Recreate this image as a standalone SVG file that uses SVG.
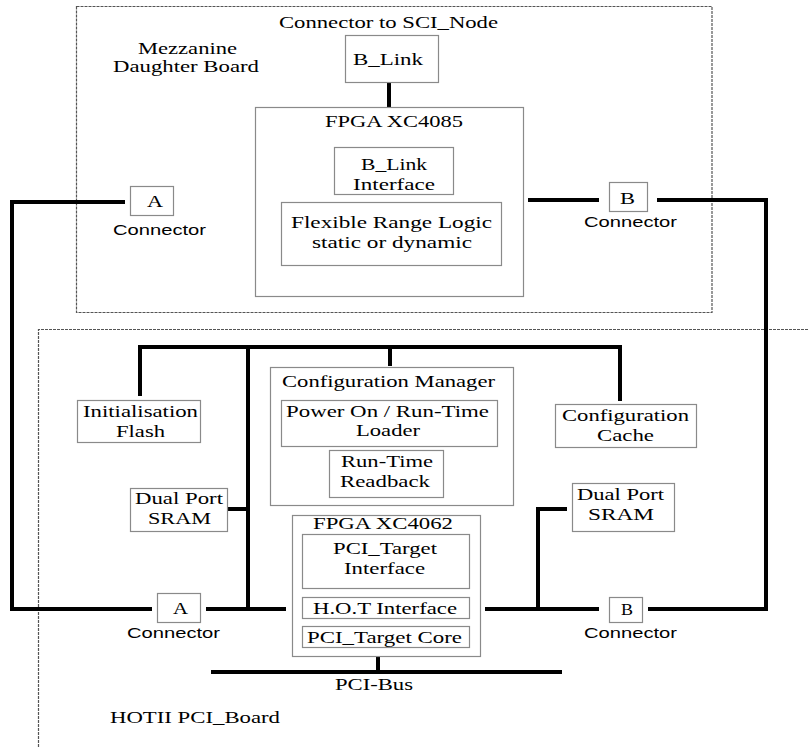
<svg xmlns="http://www.w3.org/2000/svg" width="808" height="747" viewBox="0 0 808 747" font-family="'Liberation Serif', 'Times New Roman', 'DejaVu Serif', serif">
<style>
.bg{fill:#fff}
.board{fill:none;stroke:#555;stroke-width:1.2;stroke-dasharray:3 1}
.box{fill:#fff;stroke:#8a8a8a;stroke-width:1.2}
.wire{fill:none;stroke:#000;stroke-width:4;stroke-linecap:butt;stroke-linejoin:miter}
.t{font-family:'Liberation Serif','Times New Roman','DejaVu Serif',serif;font-size:17px;fill:#000}
.s{font-family:'Liberation Sans',Arial,sans-serif;font-size:15px;fill:#000}
</style>
<rect class="bg" x="0" y="0" width="808" height="747"/>
<g id="mezzanine-board">
<rect class="board" x="76.5" y="6.5" width="635.5" height="306"/>
<text class="t" x="279" y="28" textLength="219" lengthAdjust="spacingAndGlyphs">Connector to SCI_Node</text>
<text class="t" x="138" y="54" textLength="99" lengthAdjust="spacingAndGlyphs">Mezzanine</text>
<text class="t" x="113" y="72" textLength="146" lengthAdjust="spacingAndGlyphs">Daughter Board</text>
</g>
<g id="hotii-board">
<path class="board" d="M38.5 747 V329.5 H808"/>
<text class="t" x="110" y="723" textLength="170" lengthAdjust="spacingAndGlyphs">HOTII PCI_Board</text>
</g>
<g id="connectors">
<path class="wire" d="M389 82 V107"/>
<path class="wire" d="M528 200 H599"/>
<path class="wire" d="M657 200 H766 V609 H648"/>
<path class="wire" d="M125 202 H12 V609 H152"/>
<path class="wire" d="M206 609 H286"/>
<path class="wire" d="M248 347 V609"/>
<path class="wire" d="M140 396 V347 H620 V401"/>
<path class="wire" d="M390 347 V366"/>
<path class="wire" d="M227 509 H248"/>
<path class="wire" d="M485 609 H599"/>
<path class="wire" d="M567 509 H538 V609"/>
<path class="wire" d="M378 656 V672"/>
<path class="wire" d="M211 672 H562"/>
</g>
<g id="b-link">
<rect class="box" x="345.5" y="35.5" width="93" height="47"/>
<text class="t" x="353" y="65" textLength="70" lengthAdjust="spacingAndGlyphs">B_Link</text>
</g>
<g id="fpga-xc4085">
<rect class="box" x="255.5" y="107.5" width="268" height="189"/>
<text class="t" x="325" y="127" textLength="138" lengthAdjust="spacingAndGlyphs">FPGA XC4085</text>
</g>
<g id="b-link-interface">
<rect class="box" x="334.5" y="147.5" width="119" height="47"/>
<text class="t" x="361" y="170" textLength="66" lengthAdjust="spacingAndGlyphs">B_Link</text>
<text class="t" x="353" y="190" textLength="82" lengthAdjust="spacingAndGlyphs">Interface</text>
</g>
<g id="flexible-range-logic">
<rect class="box" x="281.5" y="202.5" width="220" height="63"/>
<text class="t" x="291" y="228" textLength="201" lengthAdjust="spacingAndGlyphs">Flexible Range Logic</text>
<text class="t" x="312" y="248" textLength="160" lengthAdjust="spacingAndGlyphs">static or dynamic</text>
</g>
<g id="connector-a-top">
<rect class="box" x="130.5" y="186.5" width="43" height="29"/>
<text class="t" x="147" y="207" textLength="16" lengthAdjust="spacingAndGlyphs">A</text>
<text class="s" x="113" y="235" textLength="93" lengthAdjust="spacingAndGlyphs">Connector</text>
</g>
<g id="connector-b-top">
<rect class="box" x="609.5" y="182.5" width="38" height="29"/>
<text class="t" x="620" y="204" textLength="15" lengthAdjust="spacingAndGlyphs">B</text>
<text class="s" x="584" y="227" textLength="93" lengthAdjust="spacingAndGlyphs">Connector</text>
</g>
<g id="initialisation-flash">
<rect class="box" x="77.5" y="400.5" width="123" height="42"/>
<text class="t" x="83" y="417" textLength="115" lengthAdjust="spacingAndGlyphs">Initialisation</text>
<text class="t" x="116" y="437" textLength="49" lengthAdjust="spacingAndGlyphs">Flash</text>
</g>
<g id="dual-port-sram-left">
<rect class="box" x="130.5" y="488.5" width="97" height="43"/>
<text class="t" x="135" y="504" textLength="88" lengthAdjust="spacingAndGlyphs">Dual Port</text>
<text class="t" x="148" y="524" textLength="63" lengthAdjust="spacingAndGlyphs">SRAM</text>
</g>
<g id="configuration-manager">
<rect class="box" x="270.5" y="367.5" width="243" height="138"/>
<text class="t" x="282" y="387" textLength="213" lengthAdjust="spacingAndGlyphs">Configuration Manager</text>
</g>
<g id="power-on-loader">
<rect class="box" x="281.5" y="400.5" width="216" height="46"/>
<text class="t" x="286" y="417" textLength="203" lengthAdjust="spacingAndGlyphs">Power On / Run-Time</text>
<text class="t" x="356" y="436" textLength="64" lengthAdjust="spacingAndGlyphs">Loader</text>
</g>
<g id="run-time-readback">
<rect class="box" x="329.5" y="450.5" width="114" height="47"/>
<text class="t" x="341" y="467" textLength="92" lengthAdjust="spacingAndGlyphs">Run-Time</text>
<text class="t" x="340" y="487" textLength="90" lengthAdjust="spacingAndGlyphs">Readback</text>
</g>
<g id="configuration-cache">
<rect class="box" x="555.5" y="404.5" width="141" height="43"/>
<text class="t" x="562" y="421" textLength="127" lengthAdjust="spacingAndGlyphs">Configuration</text>
<text class="t" x="597" y="441" textLength="57" lengthAdjust="spacingAndGlyphs">Cache</text>
</g>
<g id="dual-port-sram-right">
<rect class="box" x="572.5" y="483.5" width="102" height="48"/>
<text class="t" x="577" y="500" textLength="87" lengthAdjust="spacingAndGlyphs">Dual Port</text>
<text class="t" x="588" y="520" textLength="66" lengthAdjust="spacingAndGlyphs">SRAM</text>
</g>
<g id="fpga-xc4062">
<rect class="box" x="292.5" y="515.5" width="188" height="141"/>
<text class="t" x="313" y="529" textLength="140" lengthAdjust="spacingAndGlyphs">FPGA XC4062</text>
</g>
<g id="pci-target-interface">
<rect class="box" x="302.5" y="534.5" width="167" height="54"/>
<text class="t" x="333" y="554" textLength="104" lengthAdjust="spacingAndGlyphs">PCI_Target</text>
<text class="t" x="344" y="574" textLength="81" lengthAdjust="spacingAndGlyphs">Interface</text>
</g>
<g id="hot-interface">
<rect class="box" x="302.5" y="597.5" width="167" height="21"/>
<text class="t" x="313" y="614" textLength="144" lengthAdjust="spacingAndGlyphs">H.O.T Interface</text>
</g>
<g id="pci-target-core">
<rect class="box" x="302.5" y="626.5" width="167" height="21"/>
<text class="t" x="307" y="643" textLength="155" lengthAdjust="spacingAndGlyphs">PCI_Target Core</text>
</g>
<g id="connector-a-bottom">
<rect class="box" x="157.5" y="593.5" width="43" height="29"/>
<text class="t" x="173" y="614" textLength="15" lengthAdjust="spacingAndGlyphs">A</text>
<text class="s" x="127" y="638" textLength="93" lengthAdjust="spacingAndGlyphs">Connector</text>
</g>
<g id="connector-b-bottom">
<rect class="box" x="609.5" y="597.5" width="33" height="25"/>
<text class="t" x="621" y="615" textLength="12" lengthAdjust="spacingAndGlyphs">B</text>
<text class="s" x="584" y="638" textLength="93" lengthAdjust="spacingAndGlyphs">Connector</text>
</g>
<g id="pci-bus">
<text class="t" x="335" y="690" textLength="78" lengthAdjust="spacingAndGlyphs">PCI-Bus</text>
</g>
</svg>
